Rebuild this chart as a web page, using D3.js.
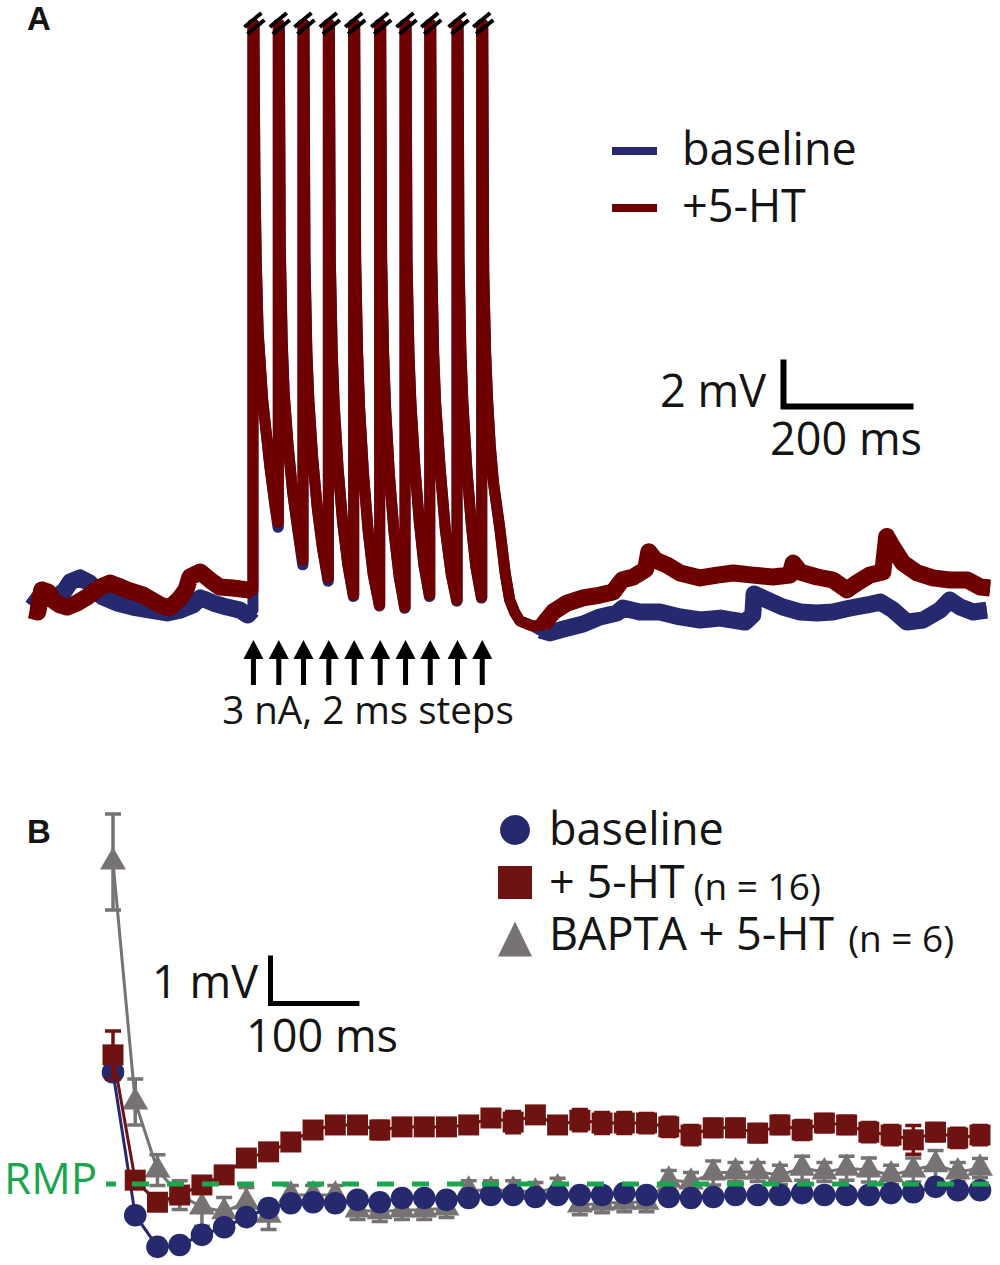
<!DOCTYPE html>
<html>
<head>
<meta charset="utf-8">
<script src="https://d3js.org/d3.v7.min.js"></script>
<style>
body { margin: 0; background: #fff; }
text { font-family: "Open Sans", sans-serif; fill: #141414; }
</style>
</head>
<body>
<div id="chart"></div>
<script>

// ===== Panel A : membrane potential trace (ms, mV relative to rest) =====
var preRed = [[0,-0.43],[12,-0.51],[18,0.43],[28,0.34],[35,0],[46,-0.21],[57,-0.30],[72,-0.13],[88,0.13],[108,0.55],[123,0.72],[135,0.60],[149,0.43],[174,0.21],[200,-0.21],[215,-0.34],[231,0.09],[240,0.43],[246,0.98],[262,1.19],[277,0.85],[292,0.55],[312,0.51],[335,0.43],[342,0.43]];
var preBlue = [[1,0.21],[11,0],[20,0.13],[42,0.13],[54,0.43],[62,0.77],[77,0.94],[92,0.72],[103,0.34],[112,0.13],[134,-0.13],[158,-0.30],[185,-0.43],[211,-0.55],[231,-0.43],[251,-0.21],[262,0.09],[271,0],[282,-0.13],[303,-0.30],[323,-0.43],[335,-0.64],[342,-0.43]];

// stimulus times (ms) and the clipped spike top
var spikeTimes = [343, 382, 420, 459, 498, 538, 577, 615, 657, 695];
var spikePeak = 24.5;

// decay after each spike: [ms after spike, mV]
var spikeDecays = [
  [[3,18.1],[5,14.5],[8,11.4],[15,8.5],[26,5.7],[34,4.0]],
  [[3,15.0],[6,11.0],[9,8.8],[15,6.6],[22,4.6],[30,3.0]],
  [[3,14.5],[6,10.5],[9,8.5],[15,6.0],[22,3.9],[30,2.2]],
  [[3,14.5],[6,10.5],[9,8.3],[15,5.6],[22,3.3],[30,1.5]],
  [[3,14.5],[6,10.5],[9,8.2],[15,5.4],[22,3.0],[30,1.1]],
  [[3,14.5],[6,10.5],[9,8.2],[15,5.3],[22,2.9],[30,1.0]],
  [[3,14.5],[6,10.5],[9,8.4],[15,5.7],[22,3.3],[29,1.5]],
  [[3,14.5],[6,10.5],[9,8.4],[16,5.6],[24,3.0],[33,1.1]],
  [[3,14.5],[6,10.5],[9,8.4],[15,5.6],[22,3.2],[29,1.4]],
  [[3,14.0],[6,10.5],[9,8.5],[13,6.6],[18,5.0],[23,4.0],[28,3.0],[36,1.15],[43,0],[51,-0.55],[59,-0.9],[70,-1.02],[79,-1.11]]
];
// trough just before spikes 2..10
var troughsRed = [3.3, 1.70, 0.94, 0.21, -0.21, -0.30, 0.21, 0, 0.13];
var troughsBlue = [3.1, 1.50, 0.80, 0.15, -0.25, -0.35, 0.15, -0.05, 0.08];

var postRed = [[789,-1.06],[805,-0.51],[826,-0.13],[851,0.09],[877,0.21],[897,0.34],[911,0.85],[928,0.98],[947,1.30],[952,2.05],[962,1.70],[980,1.49],[1000,1.15],[1031,0.94],[1057,1.06],[1082,1.15],[1112,1.06],[1143,0.98],[1169,1.06],[1174,1.57],[1185,1.19],[1211,0.98],[1235,0.85],[1257,0.43],[1272,0.72],[1292,1.06],[1312,1.19],[1318,2.70],[1326,2.30],[1343,1.57],[1365,1.15],[1389,0.94],[1415,0.85],[1442,0.85],[1462,0.55],[1477,0.51]];
var postBlue = [[785,-1.28],[800,-1.40],[815,-1.28],[851,-1.02],[877,-0.72],[903,-0.55],[912,-0.34],[938,-0.51],[969,-0.51],[1000,-0.72],[1031,-0.85],[1062,-0.77],[1100,-0.94],[1112,-0.64],[1114,0.26],[1134,0],[1158,-0.30],[1185,-0.51],[1211,-0.55],[1235,-0.51],[1262,-0.34],[1288,-0.21],[1308,-0.09],[1328,-0.43],[1349,-0.94],[1374,-0.85],[1400,-0.43],[1415,0],[1431,-0.30],[1451,-0.51],[1472,-0.43]];

// ===== Panel B : averaged responses, every 25 ms =====
var timesB = [0,25,50,75,100,125,150,175,200,225,250,275,300,325,350,375,400,425,450,475,500,525,550,575,600,625,650,675,700,725,750,775,800,825,850,875,900,925,950,975];
var baselineB = [2.33,-0.65,-1.31,-1.27,-1.06,-0.90,-0.69,-0.50,-0.40,-0.38,-0.40,-0.33,-0.38,-0.29,-0.29,-0.33,-0.29,-0.23,-0.23,-0.27,-0.23,-0.23,-0.23,-0.19,-0.23,-0.27,-0.29,-0.27,-0.23,-0.23,-0.23,-0.19,-0.23,-0.23,-0.23,-0.19,-0.17,-0.06,-0.13,-0.13];
var baselineErr = [0.15,0.1,0.1,0.1,0.1,0.1,0.1,0.1,0.1,0.1,0.1,0.1,0.1,0.1,0.1,0.1,0.1,0.1,0.1,0.1,0.1,0.1,0.1,0.1,0.1,0.1,0.1,0.1,0.1,0.1,0.1,0.1,0.1,0.1,0.1,0.1,0.1,0.1,0.1,0.1];
var htB = [2.69,0.08,-0.38,-0.23,-0.02,0.19,0.54,0.67,0.875,1.125,1.23,1.23,1.125,1.19,1.19,1.19,1.23,1.375,1.29,1.44,1.23,1.33,1.27,1.27,1.27,1.19,1.02,1.17,1.17,1.06,1.23,1.125,1.27,1.23,1.08,1.02,0.92,1.08,0.96,1.02];
var htErr = [0.5,0.15,0.12,0.12,0.12,0.12,0.15,0.15,0.15,0.15,0.12,0.12,0.18,0.15,0.15,0.15,0.15,0.15,0.22,0.15,0.15,0.22,0.22,0.22,0.2,0.2,0.2,0.18,0.18,0.18,0.18,0.2,0.18,0.18,0.2,0.2,0.3,0.18,0.2,0.2];
var baptaB = [6.71,1.71,0.29,-0.23,-0.48,-0.58,-0.375,-0.65,-0.23,-0.23,-0.23,-0.54,-0.58,-0.54,-0.54,-0.5,-0.13,-0.13,-0.13,-0.17,-0.08,-0.44,-0.4,-0.38,-0.38,0.08,0.04,0.23,0.25,0.25,0.19,0.33,0.25,0.33,0.29,0.19,0.29,0.4,0.25,0.33];
var baptaErr = [1.0,0.48,0.32,0.3,0.4,0.3,0.3,0.3,0.2,0.2,0.2,0.2,0.2,0.2,0.2,0.2,0.2,0.2,0.2,0.2,0.2,0.2,0.2,0.2,0.2,0.2,0.2,0.25,0.2,0.2,0.2,0.25,0.2,0.25,0.25,0.2,0.25,0.3,0.2,0.2];

var legendA = ["baseline", "+5-HT"];
var legendB = [["baseline", ""], ["+ 5-HT", "(n = 16)"], ["BAPTA + 5-HT", "(n = 6)"]];

var BLUE = "#27296e", RED = "#6e0000", RED_B = "#6e1212", GREY = "#777373", GREEN = "#1aa64e";

var svg = d3.select("#chart").append("svg")
    .attr("width", 1000)
    .attr("height", 1265);

// ---------------- Panel A ----------------
var xA = d3.scaleLinear().domain([0, 1480]).range([30, 992]);
var yA = d3.scaleLinear().domain([0, spikePeak]).range([600, 600 - spikePeak * 23.5]);
var lineA = d3.line().x(function(d){ return xA(d[0]); }).y(function(d){ return yA(d[1]); });

function buildTrace(pre, troughs, post){
    var pts = pre.slice();
    spikeTimes.forEach(function(t, i){
        pts.push([t, pts[pts.length - 1][1]]);
        pts.push([t, spikePeak]);
        pts.push([t + 1.5, spikePeak]);
        spikeDecays[i].forEach(function(d){ pts.push([t + d[0], d[1]]); });
        if (i < troughs.length) pts.push([spikeTimes[i + 1] - 0.5, troughs[i]]);
    });
    return pts.concat(post);
}

function drawTrace(pre, troughs, post, color){
    var g = svg.append("g");
    g.append("path").attr("d", lineA(buildTrace(pre, troughs, post)))
        .attr("fill", "none").attr("stroke", color).attr("stroke-width", 11)
        .attr("stroke-linejoin", "round");
    // noisy baseline looks thicker
    [pre, post].forEach(function(seg){
        g.append("path").attr("d", lineA(seg))
            .attr("fill", "none").attr("stroke", color).attr("stroke-width", 17)
            .attr("stroke-linejoin", "round");
    });
}
drawTrace(preBlue, troughsBlue, postBlue, BLUE);
drawTrace(preRed, troughsRed, postRed, RED);

// break marks on the clipped spikes
spikeTimes.forEach(function(t){
    var cx = xA(t + 0.75);
    svg.append("line").attr("x1", cx - 9).attr("y1", 27).attr("x2", cx + 8).attr("y2", 13)
        .attr("stroke", "#000").attr("stroke-width", 4);
    svg.append("line").attr("x1", cx - 6).attr("y1", 34).attr("x2", cx + 11).attr("y2", 20)
        .attr("stroke", "#000").attr("stroke-width", 4);
});

// stimulus arrows
spikeTimes.forEach(function(t){
    var cx = xA(t + 0.75);
    svg.append("line").attr("x1", cx).attr("x2", cx).attr("y1", 654).attr("y2", 685)
        .attr("stroke", "#000").attr("stroke-width", 5);
    svg.append("path").attr("d", "M" + (cx - 10) + ",659L" + cx + ",640L" + (cx + 10) + ",659Z")
        .attr("fill", "#000");
});
svg.append("text").attr("x", 368).attr("y", 724).attr("text-anchor", "middle")
    .style("font-size", "38.5px").text("3 nA, 2 ms steps");

// legend A
legendA.forEach(function(name, i){
    var y = 151 + i * 57;
    svg.append("line").attr("x1", 612).attr("x2", 657).attr("y1", y).attr("y2", y)
        .attr("stroke", i === 0 ? BLUE : RED).attr("stroke-width", 8);
    svg.append("text").attr("x", 682).attr("y", y + 14).style("font-size", "45px").text(name);
});

// scale bar A: 2 mV / 200 ms
var sbAx = 783.5, sbAy = 406.5;
svg.append("path")
    .attr("d", "M" + sbAx + "," + (sbAy - (yA(0) - yA(2))) + "V" + sbAy + "H" + (sbAx + xA(200) - xA(0)))
    .attr("fill", "none").attr("stroke", "#000").attr("stroke-width", 6);
svg.append("text").attr("x", 766).attr("y", 407).attr("text-anchor", "end").style("font-size", "45px").text("2 mV");
svg.append("text").attr("x", 770).attr("y", 455).style("font-size", "45px").text("200 ms");

svg.append("text").attr("x", 27).attr("y", 30)
    .style("font-family", "'Liberation Sans', Arial, sans-serif").style("font-weight", "bold")
    .style("font-size", "33px").text("A");

// ---------------- Panel B ----------------
var xB = d3.scaleLinear().domain([0, 975]).range([113, 980]);
var yB = d3.scaleLinear().domain([0, 1]).range([1184, 1136]);
var lineB = d3.line().x(function(d){ return xB(d[0]); }).y(function(d){ return yB(d[1]); });

function drawSeries(vals, errs, color, symType, symSize){
    var data = timesB.map(function(t, i){ return [t, vals[i], errs[i]]; });
    var g = svg.append("g");
    g.selectAll(".eb").data(data).enter().append("path")
        .attr("d", function(d){
            var x = xB(d[0]), y1 = yB(d[1] - d[2]), y2 = yB(d[1] + d[2]);
            return "M" + x + "," + y1 + "V" + y2 + "M" + (x - 8) + "," + y1 + "H" + (x + 8) + "M" + (x - 8) + "," + y2 + "H" + (x + 8);
        })
        .attr("fill", "none").attr("stroke", color).attr("stroke-width", 3.5);
    g.append("path").attr("d", lineB(data)).attr("fill", "none")
        .attr("stroke", color).attr("stroke-width", 3);
    g.selectAll(".sym").data(data).enter().append("path")
        .attr("transform", function(d){ return "translate(" + xB(d[0]) + "," + yB(d[1]) + ")"; })
        .attr("d", d3.symbol().type(symType).size(symSize))
        .attr("fill", color);
}
drawSeries(baptaB, baptaErr, GREY, d3.symbolTriangle, 290);
drawSeries(baselineB, baselineErr, BLUE, d3.symbolCircle, 400);
drawSeries(htB, htErr, RED_B, d3.symbolSquare, 440);

// RMP dashed reference line
svg.append("line").attr("x1", 132).attr("x2", 994).attr("y1", yB(0)).attr("y2", yB(0))
    .attr("stroke", GREEN).attr("stroke-width", 5).attr("stroke-dasharray", "17,18");
svg.append("line").attr("x1", 106).attr("x2", 116).attr("y1", yB(0)).attr("y2", yB(0))
    .attr("stroke", GREEN).attr("stroke-width", 5);
svg.append("text").attr("x", 4).attr("y", 1194).style("font-size", "44px")
    .style("fill", GREEN).text("RMP");

// legend B
var legSym = [
    d3.symbol().type(d3.symbolCircle).size(700)(),
    "M-17,-16.5H17V16.5H-17Z",
    "M-17,17.5L0,-17.5L17,17.5Z"
];
var legColor = [BLUE, RED_B, GREY];
var legGap = [0, 9, 14];
legendB.forEach(function(d, i){
    var y = 830 + i * 52.5;
    svg.append("path").attr("transform", "translate(515," + (y + (i === 2 ? 4 : 0)) + ")")
        .attr("d", legSym[i]).attr("fill", legColor[i]);
    var main = svg.append("text").attr("x", 549).attr("y", y + 15).style("font-size", "45px").text(d[0]);
    if (d[1]) {
        var endX = 549 + main.node().getComputedTextLength();
        svg.append("text").attr("x", endX + legGap[i]).attr("y", y + 17)
            .style("font-size", "37px").text(d[1]);
    }
});

// scale bar B: 1 mV / 100 ms
var sbBx = 270.5, sbBy = 1003.5;
svg.append("path")
    .attr("d", "M" + sbBx + "," + (sbBy - (yB(0) - yB(1))) + "V" + sbBy + "H" + (sbBx + xB(100) - xB(0)))
    .attr("fill", "none").attr("stroke", "#000").attr("stroke-width", 5);
svg.append("text").attr("x", 258).attr("y", 998).attr("text-anchor", "end").style("font-size", "45px").text("1 mV");
svg.append("text").attr("x", 246).attr("y", 1052).style("font-size", "45px").text("100 ms");

svg.append("text").attr("x", 27).attr("y", 843)
    .style("font-family", "'Liberation Sans', Arial, sans-serif").style("font-weight", "bold")
    .style("font-size", "33px").text("B");

</script>
</body>
</html>
